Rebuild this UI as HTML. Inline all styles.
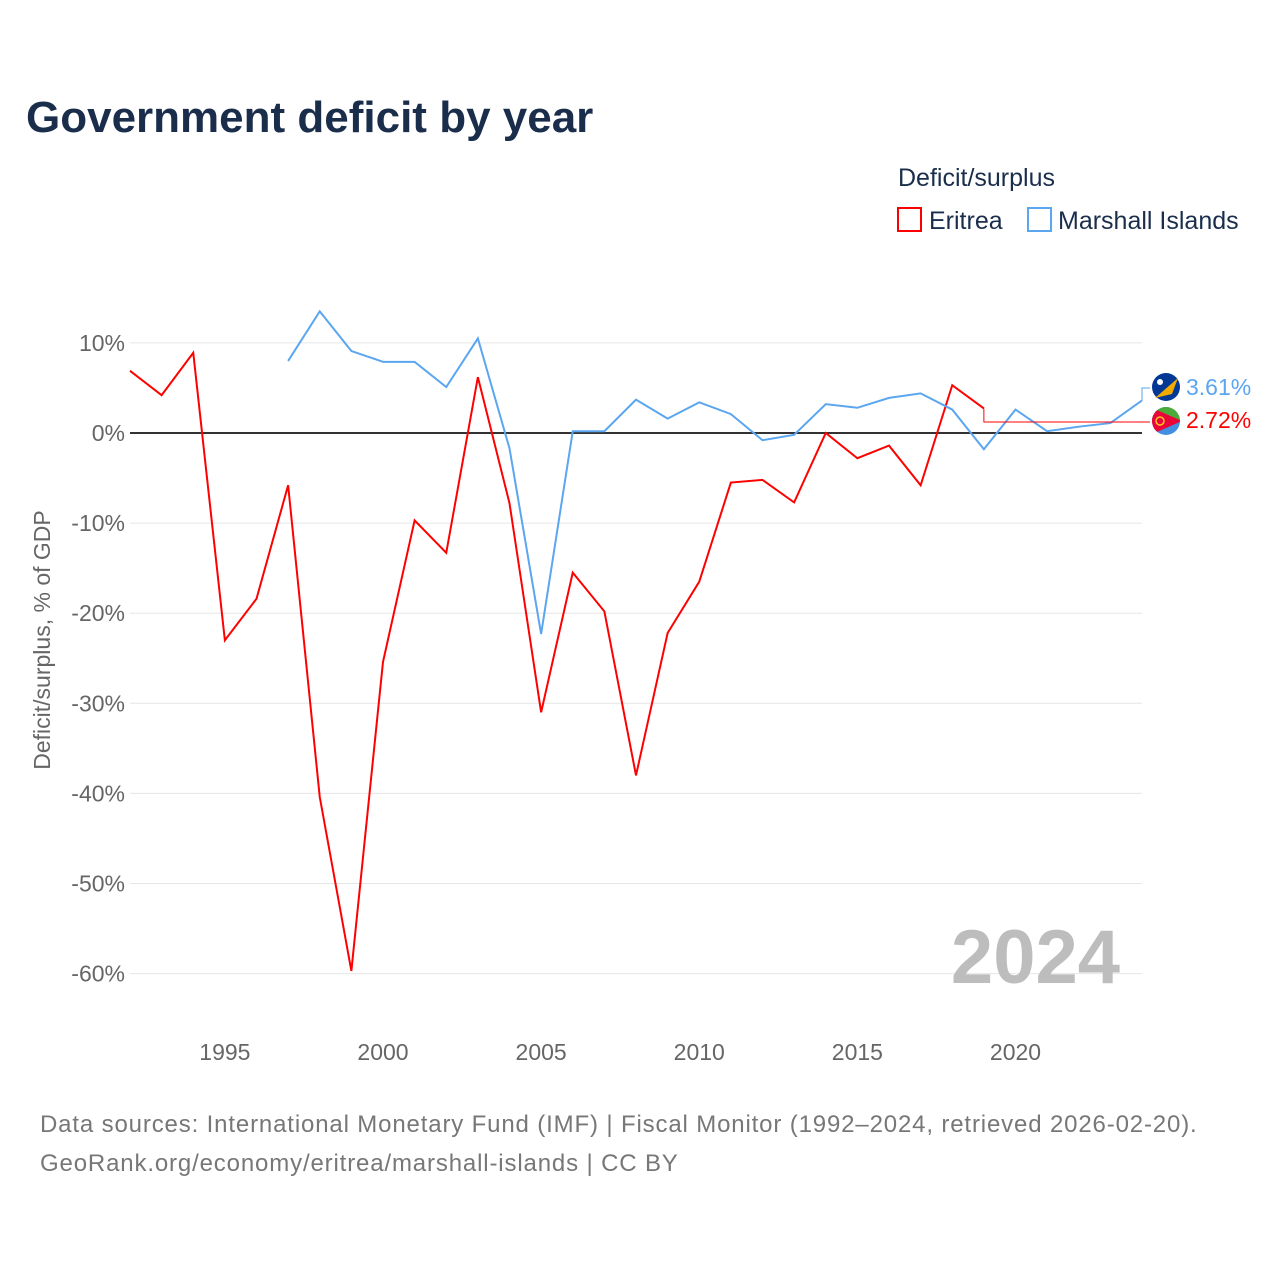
<!DOCTYPE html>
<html><head><meta charset="utf-8">
<style>
body{margin:0;background:#fff;font-family:"Liberation Sans",sans-serif;}
#wrap{position:relative;width:1280px;height:1280px;overflow:hidden;}
</style></head>
<body>
<div id="wrap">
<svg id="chart" width="1280" height="1280" xmlns="http://www.w3.org/2000/svg">
<defs><clipPath id="eclip"><circle cx="1166" cy="421" r="14"/></clipPath></defs>
<text x="26" y="132" font-size="44" font-weight="bold" fill="#1a2e4c">Government deficit by year</text>
<text x="898" y="186" font-size="25" fill="#1a2e4c">Deficit/surplus</text>
<g>
<rect x="898" y="208" width="23" height="23" fill="none" stroke="#ff0000" stroke-width="2"/>
<text x="929" y="229" font-size="25" fill="#1a2e4c">Eritrea</text></g>
<g>
<rect x="1028" y="208" width="23" height="23" fill="none" stroke="#5ba6f0" stroke-width="2"/>
<text x="1058" y="229" font-size="25" fill="#1a2e4c">Marshall Islands</text></g>
<g id="grid"></g><g id="yticks"></g><g id="xticks"></g>
<text x="1120" y="983" font-size="76" font-weight="bold" fill="#bdbdbd" text-anchor="end">2024</text>
<text transform="translate(50,640) rotate(-90)" font-size="23" fill="#666" text-anchor="middle">Deficit/surplus, % of GDP</text>
<g id="series"></g>
<text x="40" y="1132" font-size="24" fill="#777" letter-spacing="0.85">Data sources: International Monetary Fund (IMF) | Fiscal Monitor (1992–2024, retrieved 2026-02-20).</text>
<text x="40" y="1171" font-size="24" fill="#777" letter-spacing="0.85">GeoRank.org/economy/eritrea/marshall-islands | CC BY</text>
</svg>
</div>
<script>
const yTicks=[10,0,-10,-20,-30,-40,-50,-60];
const xTicks=[1995,2000,2005,2010,2015,2020];
const eriYears=[1992,1993,1994,1995,1996,1997,1998,1999,2000,2001,2002,2003,2004,2005,2006,2007,2008,2009,2010,2011,2012,2013,2014,2015,2016,2017,2018,2019];
const eriValues=[6.9,4.2,8.9,-23,-18.4,-5.8,-40.4,-59.7,-25.4,-9.7,-13.3,6.2,-7.8,-31,-15.5,-19.8,-38,-22.2,-16.5,-5.5,-5.2,-7.7,0,-2.8,-1.4,-5.8,5.3,2.72];
const mhlYears=[1997,1998,1999,2000,2001,2002,2003,2004,2005,2006,2007,2008,2009,2010,2011,2012,2013,2014,2015,2016,2017,2018,2019,2020,2021,2022,2023,2024];
const mhlValues=[8.0,13.5,9.1,7.9,7.9,5.1,10.5,-1.7,-22.3,0.2,0.2,3.7,1.6,3.4,2.1,-0.8,-0.2,3.2,2.8,3.9,4.4,2.6,-1.8,2.6,0.2,0.7,1.1,3.61];
const NS="http://www.w3.org/2000/svg";
const X=y=>130+(y-1992)*(1142-130)/32;
const Y=v=>433-v*9.01;
function mk(t,a,p){const e=document.createElementNS(NS,t);for(const k in a)e.setAttribute(k,a[k]);p.appendChild(e);return e;}
const grid=document.getElementById('grid'),yt=document.getElementById('yticks'),xt=document.getElementById('xticks'),ser=document.getElementById('series');
yTicks.forEach(v=>{
 const l=mk('line',{x1:130,x2:1142,y1:Y(v),y2:Y(v),stroke:v===0?'#333':'#e6e6e6','stroke-width':v===0?2:1},grid);
 
 
 const t=mk('text',{x:125,y:Y(v)+8,'font-size':23,fill:'#666','text-anchor':'end'},yt);
 t.textContent=v+'%';
 
 
});
xTicks.forEach(y=>{
 const t=mk('text',{x:X(y),y:1060,'font-size':23,fill:'#666','text-anchor':'middle'},xt);
 t.textContent=y;
 
 
});
function line(ys,vs,c,name){
 const d=ys.map((y,i)=>(i?'L':'M')+X(y)+','+Y(vs[i])).join('');
 const p=mk('path',{d:d,fill:'none',stroke:c,'stroke-width':2},ser);
 
 
}
line(eriYears,eriValues,'#ff0000','series-eritrea');
line(mhlYears,mhlValues,'#5ba6f0','series-marshall-islands');
const eLast=eriValues[eriValues.length-1], mLast=mhlValues[mhlValues.length-1];
const ex=X(eriYears[eriYears.length-1]), ey=Y(eLast);
const c1=mk('path',{d:`M${ex},${ey}V422H1150`,fill:'none',stroke:'#ff0000','stroke-width':1},ser);


const mx=X(2024),my=Y(mLast);
const c2=mk('path',{d:`M${mx},${my}V388H1150`,fill:'none',stroke:'#5ba6f0','stroke-width':1},ser);


const f1=mk('circle',{cx:1166,cy:387,r:14,fill:'#003893'},ser);


mk('path',{d:'M1155,398L1178,378L1172,394Z',fill:'#f2a900'},ser);
mk('circle',{cx:1160,cy:382,r:3,fill:'#fff'},ser);
const eg=mk('g',{'clip-path':'url(#eclip)'},ser);


mk('rect',{x:1150,y:405,width:32,height:32,fill:'#418fde'},eg);
mk('rect',{x:1150,y:405,width:32,height:16,fill:'#4caa3a'},eg);
mk('path',{d:'M1150,407L1182,421L1150,435Z',fill:'#ea0437'},eg);
mk('circle',{cx:1160,cy:421,r:4,fill:'none',stroke:'#ffc726','stroke-width':1.5},eg);
const t1=mk('text',{x:1186,y:395,'font-size':23,fill:'#5ba6f0'},ser);
t1.textContent=mLast.toFixed(2)+'%';


const t2=mk('text',{x:1186,y:428,'font-size':23,fill:'#ff0000'},ser);
t2.textContent=eLast.toFixed(2)+'%';


</script>
</body></html>
